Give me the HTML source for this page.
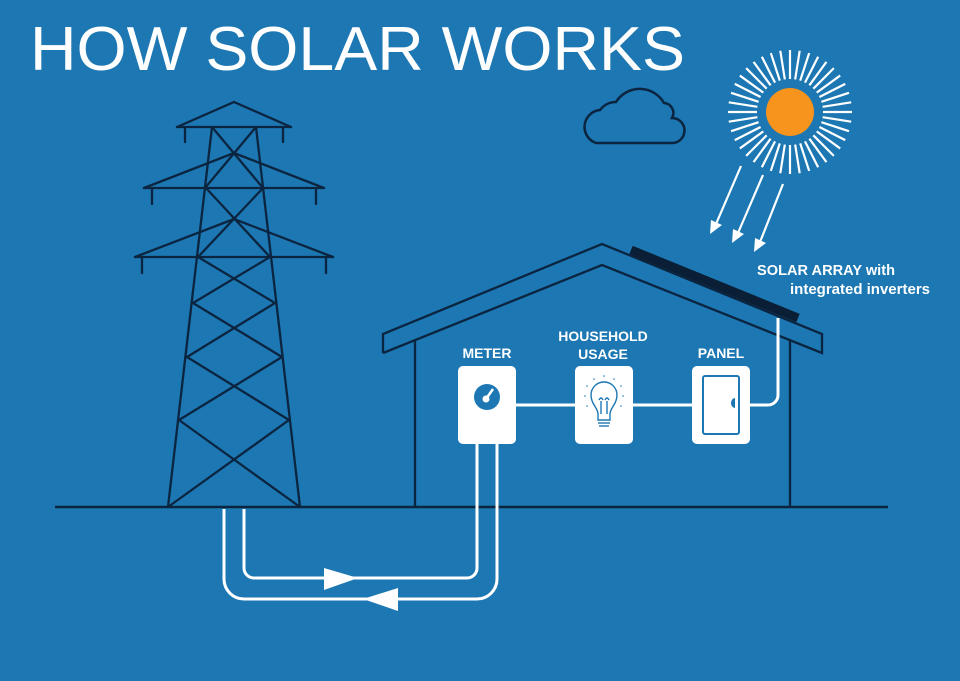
<!DOCTYPE html>
<html><head><meta charset="utf-8"><style>
html,body{margin:0;padding:0;background:#1c77b3;}
svg{display:block;}
text{font-family:"Liberation Sans",Arial,sans-serif;fill:#fff;}
</style></head><body>
<svg width="960" height="681" viewBox="0 0 960 681" xmlns="http://www.w3.org/2000/svg">
<rect width="960" height="681" fill="#1c77b3"/>
<text x="30" y="70" font-size="62" textLength="655" lengthAdjust="spacingAndGlyphs">HOW SOLAR WORKS</text>

<!-- cloud -->
<path d="M596,143 H672 A12,12 0 0 0 672,118 A10,10 0 0 0 664,103 A28,28 0 0 0 616,102 A20,20 0 0 0 600,110 A17,17 0 0 0 596,143 Z" fill="none" stroke="#0b2540" stroke-width="2.5"/>

<g stroke="#fff" stroke-width="2.2" transform="translate(790,112)">
<line x1="0" y1="-33" x2="0" y2="-62"/>
<line x1="0" y1="-33" x2="0" y2="-62" transform="rotate(9)"/>
<line x1="0" y1="-33" x2="0" y2="-62" transform="rotate(18)"/>
<line x1="0" y1="-33" x2="0" y2="-62" transform="rotate(27)"/>
<line x1="0" y1="-33" x2="0" y2="-62" transform="rotate(36)"/>
<line x1="0" y1="-33" x2="0" y2="-62" transform="rotate(45)"/>
<line x1="0" y1="-33" x2="0" y2="-62" transform="rotate(54)"/>
<line x1="0" y1="-33" x2="0" y2="-62" transform="rotate(63)"/>
<line x1="0" y1="-33" x2="0" y2="-62" transform="rotate(72)"/>
<line x1="0" y1="-33" x2="0" y2="-62" transform="rotate(81)"/>
<line x1="0" y1="-33" x2="0" y2="-62" transform="rotate(90)"/>
<line x1="0" y1="-33" x2="0" y2="-62" transform="rotate(99)"/>
<line x1="0" y1="-33" x2="0" y2="-62" transform="rotate(108)"/>
<line x1="0" y1="-33" x2="0" y2="-62" transform="rotate(117)"/>
<line x1="0" y1="-33" x2="0" y2="-62" transform="rotate(126)"/>
<line x1="0" y1="-33" x2="0" y2="-62" transform="rotate(135)"/>
<line x1="0" y1="-33" x2="0" y2="-62" transform="rotate(144)"/>
<line x1="0" y1="-33" x2="0" y2="-62" transform="rotate(153)"/>
<line x1="0" y1="-33" x2="0" y2="-62" transform="rotate(162)"/>
<line x1="0" y1="-33" x2="0" y2="-62" transform="rotate(171)"/>
<line x1="0" y1="-33" x2="0" y2="-62" transform="rotate(180)"/>
<line x1="0" y1="-33" x2="0" y2="-62" transform="rotate(189)"/>
<line x1="0" y1="-33" x2="0" y2="-62" transform="rotate(198)"/>
<line x1="0" y1="-33" x2="0" y2="-62" transform="rotate(207)"/>
<line x1="0" y1="-33" x2="0" y2="-62" transform="rotate(216)"/>
<line x1="0" y1="-33" x2="0" y2="-62" transform="rotate(225)"/>
<line x1="0" y1="-33" x2="0" y2="-62" transform="rotate(234)"/>
<line x1="0" y1="-33" x2="0" y2="-62" transform="rotate(243)"/>
<line x1="0" y1="-33" x2="0" y2="-62" transform="rotate(252)"/>
<line x1="0" y1="-33" x2="0" y2="-62" transform="rotate(261)"/>
<line x1="0" y1="-33" x2="0" y2="-62" transform="rotate(270)"/>
<line x1="0" y1="-33" x2="0" y2="-62" transform="rotate(279)"/>
<line x1="0" y1="-33" x2="0" y2="-62" transform="rotate(288)"/>
<line x1="0" y1="-33" x2="0" y2="-62" transform="rotate(297)"/>
<line x1="0" y1="-33" x2="0" y2="-62" transform="rotate(306)"/>
<line x1="0" y1="-33" x2="0" y2="-62" transform="rotate(315)"/>
<line x1="0" y1="-33" x2="0" y2="-62" transform="rotate(324)"/>
<line x1="0" y1="-33" x2="0" y2="-62" transform="rotate(333)"/>
<line x1="0" y1="-33" x2="0" y2="-62" transform="rotate(342)"/>
<line x1="0" y1="-33" x2="0" y2="-62" transform="rotate(351)"/>
</g>
<circle cx="790" cy="112" r="24" fill="#f7941d"/>

<g stroke="#fff" stroke-width="2.2">
<line x1="741" y1="166" x2="716" y2="224"/>
<line x1="763" y1="175" x2="738" y2="233"/>
<line x1="783" y1="184" x2="760" y2="242"/>
</g>
<g fill="#fff">
<polygon points="710,234 711,220 722,225"/>
<polygon points="732,243 733,229 744,234"/>
<polygon points="754,252 755,238 766,243"/>
</g>

<g stroke="#0b2540" stroke-width="2.3" fill="none" stroke-linecap="round">
<polyline points="177,127 234,102 291,127"/>
<line x1="177" y1="127" x2="291" y2="127"/>
<line x1="185" y1="127" x2="185" y2="142"/><line x1="283" y1="127" x2="283" y2="142"/>
<polyline points="144,188 234,153 324,188"/>
<line x1="144" y1="188" x2="324" y2="188"/>
<line x1="152" y1="188" x2="152" y2="204"/><line x1="316" y1="188" x2="316" y2="204"/>
<polyline points="135,257 234,219 333,257"/>
<line x1="135" y1="257" x2="333" y2="257"/>
<line x1="142" y1="257" x2="142" y2="273"/><line x1="326" y1="257" x2="326" y2="273"/>
<line x1="212" y1="127" x2="168" y2="507"/>
<line x1="256" y1="127" x2="300" y2="507"/>
<line x1="212" y1="127" x2="263" y2="188"/><line x1="256" y1="127" x2="205" y2="188"/>
<line x1="206" y1="188" x2="270" y2="257"/><line x1="263" y1="188" x2="198" y2="257"/>
<line x1="198" y1="257" x2="275" y2="303"/><line x1="270" y1="257" x2="193" y2="303"/>
<line x1="193" y1="303" x2="282" y2="357"/><line x1="275" y1="303" x2="187" y2="357"/>
<line x1="187" y1="357" x2="289" y2="420"/><line x1="282" y1="357" x2="179" y2="420"/>
<line x1="179" y1="420" x2="300" y2="507"/><line x1="289" y1="420" x2="168" y2="507"/>
</g>

<line x1="55" y1="507" x2="888" y2="507" stroke="#0b2540" stroke-width="2.6"/>

<g stroke="#0b2540" stroke-width="2.3" fill="none">
<polyline points="383,353 383,334 602,244 822,334 822,353 602,265 383,353"/>
<line x1="415" y1="340" x2="415" y2="507"/>
<line x1="790" y1="340" x2="790" y2="507"/>
</g>
<line x1="631" y1="250" x2="798" y2="318" stroke="#0a1f35" stroke-width="9"/>

<g stroke="#fff" stroke-width="3" fill="none">
<line x1="516" y1="405" x2="692" y2="405"/>
<path d="M750,405 H768 A10,10 0 0 0 778,395 V318"/>
<path d="M244,509 V568 A10,10 0 0 0 254,578 H467 A10,10 0 0 0 477,568 V440"/>
<path d="M224,509 V579 A20,20 0 0 0 244,599 H477 A20,20 0 0 0 497,579 V440"/>
</g>
<polygon points="324,568 358,578 324,590" fill="#fff"/>
<polygon points="398,588 363,599 398,611" fill="#fff"/>

<rect x="458" y="366" width="58" height="78" rx="5" fill="#fff"/>
<rect x="575" y="366" width="58" height="78" rx="5" fill="#fff"/>
<rect x="692" y="366" width="58" height="78" rx="5" fill="#fff"/>
<circle cx="487" cy="397" r="13" fill="#1c77b3"/>
<circle cx="486" cy="399" r="3.5" fill="#fff"/>
<line x1="486" y1="399" x2="493" y2="389" stroke="#fff" stroke-width="2.5"/>
<g stroke="#1c77b3" stroke-width="1.4" fill="none">
<path d="M598,420 V414 C598,408 591,404 591,395 A13,13 0 0 1 617,395 C617,404 610,408 610,414 V420 Z"/>
<line x1="598" y1="423" x2="610" y2="423"/>
<line x1="599" y1="426" x2="609" y2="426"/>
<path d="M601,414 V401 M607,414 V401 M599,400 Q601,396 603,400 M605,400 Q607,396 609,400"/>
</g>
<g fill="#1c77b3">
<circle cx="604" cy="376" r="0.8"/><circle cx="594" cy="379" r="0.8"/><circle cx="614" cy="379" r="0.8"/>
<circle cx="587" cy="386" r="0.8"/><circle cx="621" cy="386" r="0.8"/><circle cx="585" cy="396" r="0.8"/><circle cx="623" cy="396" r="0.8"/>
<circle cx="587" cy="406" r="0.8"/><circle cx="621" cy="406" r="0.8"/>
</g>
<rect x="703" y="376" width="36" height="58" rx="2" fill="none" stroke="#1c77b3" stroke-width="2"/>
<path d="M735,398 A4,5 0 0 0 735,408 Z" fill="#1c77b3"/>

<g font-weight="bold" font-size="14" text-anchor="middle">
<text x="487" y="358">METER</text>
<text x="603" y="341">HOUSEHOLD</text>
<text x="603" y="359">USAGE</text>
<text x="721" y="358">PANEL</text>
</g>
<g font-weight="bold" font-size="14.5">
<text x="757" y="275" textLength="138" lengthAdjust="spacingAndGlyphs">SOLAR ARRAY with</text>
<text x="790" y="294" textLength="140" lengthAdjust="spacingAndGlyphs">integrated inverters</text>
</g>
</svg>
</body></html>
